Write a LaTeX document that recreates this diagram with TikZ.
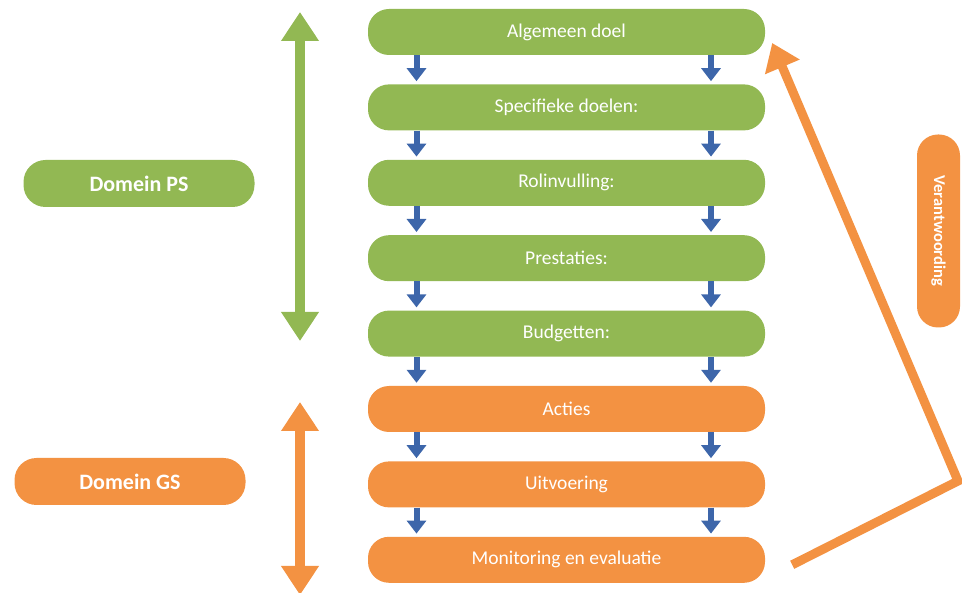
\documentclass[tikz,border=0pt]{standalone}
\usepackage{fontspec}
\setmainfont{Carlito}
\usepackage{tikz}
\usetikzlibrary{arrows.meta}
\definecolor{psgreen}{HTML}{92B853}
\definecolor{gsorange}{HTML}{F39242}
\definecolor{stepblue}{HTML}{3D66AA}
\tikzset{
  pill/.style={rounded corners=21pt, minimum width=397pt, minimum height=46pt,
    inner sep=0pt, text=white, font=\fontsize{19.5}{22}\selectfont},
  domein/.style={rounded corners=22pt, minimum width=231pt, minimum height=47pt,
    inner sep=0pt, text=white, font=\bfseries\fontsize{22}{25}\selectfont}
}

\begin{document}
\begin{tikzpicture}[x=1pt,y=-1pt,
% arrow heads (thick, triangular) for the three kinds of lines
flow/.style={stepblue, line width=6pt, shorten >=3pt,
  -{Triangle[width=19pt,length=13pt]}},
span/.style={line width=10pt,
  {Triangle[width=36pt,length=29pt]}-{Triangle[width=36pt,length=29pt]}},
back/.style={gsorange, line width=9pt, line join=miter,
  -{Triangle[width=36pt,length=26pt]}}]

\clip (0,0) rectangle (962,593);

\pgfmathsetmacro\bx{566.5}
\pgfmathsetmacro\by{32}
\pgfmathsetmacro\dy{75.4}

\foreach \t [count=\i] in {Algemeen doel,Specifieke doelen:,Rolinvulling:,Prestaties:,Budgetten:} {
  \node[pill,fill=psgreen] (b\i) at (\bx,\by+\dy*\i-\dy) {\t};
}
\foreach \t [count=\i from 6] in {Acties,Uitvoering,Monitoring en evaluatie} {
  \node[pill,fill=gsorange] (b\i) at (\bx,\by+\dy*\i-\dy) {\t};
}
\foreach \i [count=\j from 2] in {1,...,7} {
  \draw[flow] ([xshift=-150pt]b\i.south) -- ([xshift=-150pt]b\j.north);
  \draw[flow] ([xshift=144.5pt]b\i.south) -- ([xshift=144.5pt]b\j.north);
}

\node[domein,fill=psgreen] (ps) at (139,183.5) {Domein PS};
\node[domein,fill=gsorange] (gs) at (130,481.5) {Domein GS};

\coordinate (psboven) at (300,12);
\coordinate (psonder) at (300,341);
\draw[span,psgreen] (psboven) -- (psonder);
\coordinate (gsboven) at (300,402);
\coordinate (gsonder) at (300,595);
\draw[span,gsorange] (gsboven) -- (gsonder);

\node[rounded corners=21pt, minimum width=193pt, minimum height=43pt, inner sep=0pt,
  rotate=-90, fill=gsorange, text=white, font=\bfseries\fontsize{16.5}{18}\selectfont]
  (ver) at (938.5,231) {Verantwoording};

\coordinate (knik) at (958,481);
\draw[back] ([xshift=27pt,yshift=-5pt]b8.east) -- (knik) -- ([xshift=7pt,yshift=-11pt]b1.east);
\end{tikzpicture}
\end{document}
